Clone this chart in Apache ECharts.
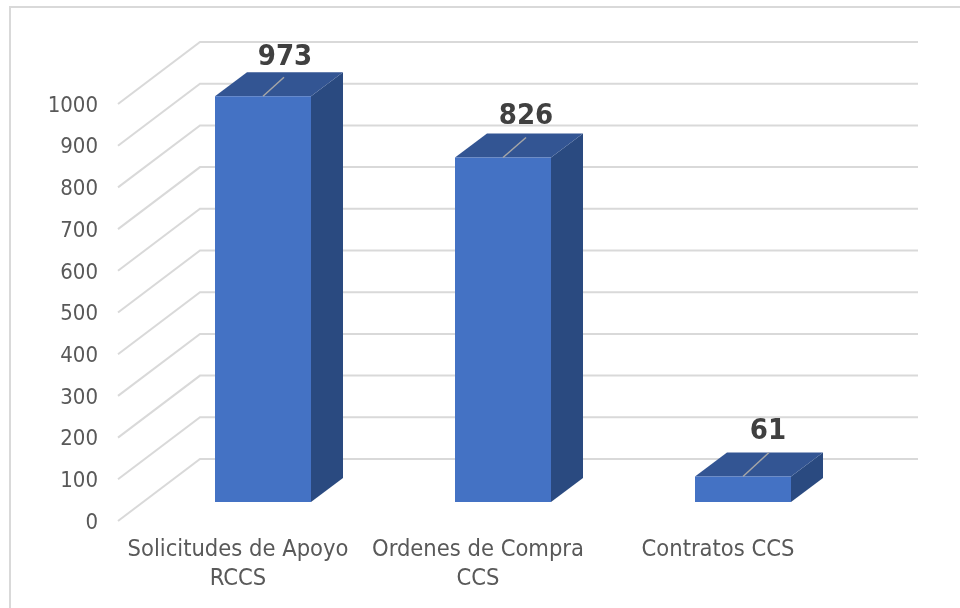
<!DOCTYPE html>
<html>
<head>
<meta charset="utf-8">
<title>Solicitudes</title>
<script src="https://cdn.jsdelivr.net/npm/echarts@6/dist/echarts.min.js"></script>
<style>
  html, body { margin: 0; padding: 0; background: #fff; }
  #chart { width: 960px; height: 608px; }
</style>
</head>
<body>
<div id="chart"></div>
<script>
  const categories = ['Solicitudes de Apoyo\nRCCS', 'Ordenes de Compra\nCCS', 'Contratos CCS'];
  const values = [973, 826, 61];
  const yTicks = [0, 100, 200, 300, 400, 500, 600, 700, 800, 900, 1000];

  // fake 3d: the grid is the front edge of the floor, everything else is shifted from it
  const wallShift = { x: 82, y: -62 };
  const barFront = { x: 25, y: -19 };
  const barBack = { x: 57, y: -43 };
  const barWidth = 96;
  const font = '"DejaVu Sans Condensed", "DejaVu Sans", sans-serif';

  // leader line end and label centre, measured from the middle of the bar's top front edge
  const leaders = [
    { line: [21, -19], label: [22, -39] },
    { line: [23, -20], label: [23, -41] },
    { line: [26, -24], label: [25, -45] }
  ];

  function renderWall(params, api) {
    const cs = params.coordSys;
    const y = api.coord([0, api.value(1)])[1];
    return {
      type: 'polyline',
      silent: true,
      shape: {
        points: [
          [cs.x, y],
          [cs.x + wallShift.x, y + wallShift.y],
          [cs.x + cs.width + wallShift.x - 2, y + wallShift.y]
        ]
      },
      style: { fill: null, stroke: '#d9d9d9', lineWidth: 2 }
    };
  }

  function renderBar(params, api) {
    const i = api.value(0);
    const val = api.value(1);
    const top = api.coord([i, val]);
    const floor = api.coord([i, 0]);
    const x0 = top[0] - barWidth / 2 + barFront.x;
    const x1 = x0 + barWidth;
    const yTop = top[1] + barFront.y;
    const yBot = floor[1] + barFront.y;
    const dx = barBack.x - barFront.x;
    const dy = barBack.y - barFront.y;
    const mid = (x0 + x1) / 2;
    const lead = leaders[params.dataIndex];
    return {
      type: 'group',
      children: [
        {
          type: 'polygon',
          shape: { points: [[x1, yTop], [x1 + dx, yTop + dy], [x1 + dx, yBot + dy], [x1, yBot]] },
          style: { fill: '#2a4a80' }
        },
        {
          type: 'polygon',
          shape: { points: [[x0, yTop], [x0 + dx, yTop + dy], [x1 + dx, yTop + dy], [x1, yTop]] },
          style: { fill: '#335593' }
        },
        {
          type: 'rect',
          shape: { x: x0, y: yTop, width: barWidth, height: yBot - yTop },
          style: { fill: '#4472c4' }
        },
        {
          type: 'line',
          shape: { x1: mid, y1: yTop, x2: mid + lead.line[0], y2: yTop + lead.line[1] },
          style: { stroke: '#a6a6a6', lineWidth: 1.5 }
        },
        {
          type: 'text',
          x: mid + lead.label[0],
          y: yTop + lead.label[1],
          style: {
            text: String(val),
            fill: '#404040',
            font: 'bold 29px ' + font,
            align: 'center',
            verticalAlign: 'middle'
          }
        }
      ]
    };
  }

  const myChart = echarts.init(document.getElementById('chart'));
  myChart.setOption({
    animation: false,
    backgroundColor: '#fff',
    graphic: [
      {
        type: 'polyline',
        silent: true,
        shape: { points: [[10, 608], [10, 7], [960, 7]] },
        style: { fill: null, stroke: '#d9d9d9', lineWidth: 2 }
      }
    ],
    grid: { left: 118, top: 104, width: 720, height: 417 },
    xAxis: {
      type: 'category',
      data: categories,
      axisLine: { show: false },
      axisTick: { show: false },
      axisLabel: { color: '#595959', fontFamily: font, fontSize: 23.5, lineHeight: 29, margin: 14, interval: 0 }
    },
    yAxis: {
      type: 'value',
      min: 0,
      max: 1000,
      interval: 100,
      axisLine: { show: false },
      axisTick: { show: false },
      splitLine: { show: false },
      axisLabel: {
        margin: 20,
        formatter: function (v) { return '{tick|' + v + '}'; },
        rich: {
          tick: { color: '#595959', fontFamily: font, fontSize: 22, padding: [4, 0, 0, 0] }
        }
      }
    },
    series: [
      {
        type: 'custom',
        silent: true,
        clip: false,
        z: 1,
        renderItem: renderWall,
        data: yTicks.map(function (t) { return [0, t]; })
      },
      {
        type: 'custom',
        silent: true,
        clip: false,
        z: 2,
        renderItem: renderBar,
        data: values.map(function (v, i) { return [i, v]; })
      }
    ]
  });
</script>
</body>
</html>
